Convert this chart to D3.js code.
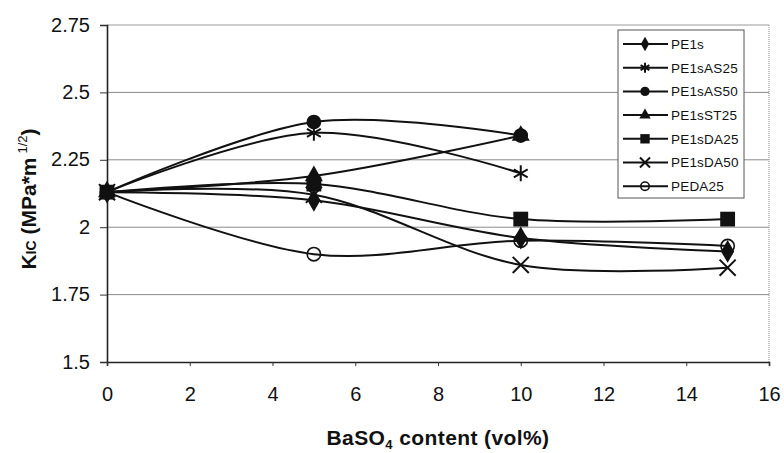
<!DOCTYPE html>
<html>
<head>
  <meta charset="utf-8">
  <title>KIC vs BaSO4 content</title>
  <script src="https://d3js.org/d3.v7.min.js"></script>
  <style type="text/css">
    body { margin: 0; background: #fff; }
    svg { font-family: Arial, "Liberation Sans", sans-serif; }
  </style>
</head>
<body>
  <div id="chart"></div>
<script type="text/javascript">
  // values
  const xTicks = [0, 2, 4, 6, 8, 10, 12, 14, 16];
  const yTicks = [1.5, 1.75, 2, 2.25, 2.5, 2.75];
  const yTickLabels = ['1.5', '1.75', '2', '2.25', '2.5', '2.75'];

  const seriesNames = ['PE1s', 'PE1sAS25', 'PE1sAS50', 'PE1sST25', 'PE1sDA25', 'PE1sDA50', 'PEDA25'];
  const PE1s     = [[0, 2.13], [5, 2.10], [10, 1.96], [15, 1.91]];
  const PE1sAS25 = [[0, 2.13], [5, 2.35], [10, 2.20]];
  const PE1sAS50 = [[0, 2.13], [5, 2.39], [10, 2.34]];
  const PE1sST25 = [[0, 2.13], [5, 2.19], [10, 2.34]];
  const PE1sDA25 = [[0, 2.13], [5, 2.16], [10, 2.03], [15, 2.03]];
  const PE1sDA50 = [[0, 2.13], [5, 2.12], [10, 1.86], [15, 1.85]];
  const PEDA25   = [[0, 2.13], [5, 1.90], [10, 1.95], [15, 1.93]];
  const seriesData = [PE1s, PE1sAS25, PE1sAS50, PE1sST25, PE1sDA25, PE1sDA50, PEDA25];

  const width = 784, height = 453;
  const x = d3.scaleLinear().domain([0, 16]).range([107, 769]);
  const y = d3.scaleLinear().domain([1.5, 2.75]).range([362, 25]);

  const svg = d3.select('#chart').append('svg')
    .attr('width', width)
    .attr('height', height);

  // gridlines + plot frame
  svg.append('g').selectAll('line').data(yTicks.slice(1, -1)).enter()
    .append('line')
      .attr('x1', x(0)).attr('x2', x(16))
      .attr('y1', d => y(d)).attr('y2', d => y(d))
      .attr('stroke', '#8a8a8a').attr('stroke-width', 1);
  svg.append('line')
    .attr('x1', x(0)).attr('x2', x(16)).attr('y1', y(2.75)).attr('y2', y(2.75))
    .attr('stroke', '#9a9a9a').attr('stroke-width', 1);
  svg.append('line')
    .attr('x1', x(16)).attr('x2', x(16)).attr('y1', y(2.75)).attr('y2', y(1.5))
    .attr('stroke', '#9a9a9a').attr('stroke-width', 1.2).attr('stroke-dasharray', '1,1');

  // axes
  const yAxis = d3.axisLeft(y).tickValues(yTicks).tickSize(7).tickPadding(10)
    .tickFormat((d, i) => yTickLabels[i]);
  const gy = svg.append('g').attr('transform', `translate(${x(0)},0)`).call(yAxis);
  const xAxis = d3.axisBottom(x).tickValues(xTicks).tickSize(4).tickPadding(21);
  const gx = svg.append('g').attr('transform', `translate(0,${y(1.5)})`).call(xAxis);
  [gy, gx].forEach(g => {
    g.select('.domain').attr('stroke', '#222').attr('stroke-width', 1.6);
    g.selectAll('.tick line').attr('stroke', '#333');
    g.selectAll('.tick text').attr('fill', '#111').style('font-size', '20px');
  });
  gy.selectAll('.tick text').attr('dy', '0.3em');

  // series
  const line = d3.line()
    .x(d => x(d[0])).y(d => y(d[1]))
    .curve(d3.curveCatmullRom.alpha(0));
  const symbolTypes = [d3.symbolDiamond, d3.symbolAsterisk, d3.symbolCircle, d3.symbolTriangle,
                       d3.symbolSquare, d3.symbolTimes, d3.symbolCircle];
  const symbolSizes = [150, 180, 170, 140, 220, 170, 140];
  const marker = (g, i) => {
    const sym = d3.symbol().type(symbolTypes[i]).size(symbolSizes[i]);
    const stroked = i === 1 || i === 5;
    g.attr('d', sym)
      .attr('fill', stroked || i === 6 ? 'none' : '#111')
      .attr('stroke', '#111')
      .attr('stroke-width', stroked ? 2 : (i === 6 ? 1.6 : 0));
  };

  seriesData.forEach((data, i) => {
    svg.append('path')
      .datum(data)
      .attr('d', line)
      .attr('fill', 'none')
      .attr('stroke', '#111')
      .attr('stroke-width', 2);
  });
  seriesData.forEach((data, i) => {
    svg.append('g').selectAll('path').data(data).enter()
      .append('path')
        .attr('transform', d => `translate(${x(d[0])},${y(d[1])})`)
        .call(marker, i);
  });

  // legend
  const legend = svg.append('g').attr('transform', 'translate(618,30)');
  legend.append('rect')
    .attr('width', 126).attr('height', 168)
    .attr('fill', '#fff').attr('stroke', '#555').attr('stroke-width', 1);
  seriesNames.forEach((name, i) => {
    const row = legend.append('g').attr('transform', `translate(0,${14 + i * 23.7})`);
    row.append('line').attr('x1', 5).attr('x2', 50).attr('y1', 0).attr('y2', 0)
      .attr('stroke', '#111').attr('stroke-width', 2);
    row.append('path').attr('transform', 'translate(27,0)')
      .call(marker, i)
      .attr('d', d3.symbol().type(symbolTypes[i]).size(symbolSizes[i] * 0.4));
    row.append('text').attr('x', 53).attr('y', 0).attr('dy', '0.36em')
      .style('font-size', '13.5px').style('letter-spacing', '0.2px').attr('fill', '#111')
      .text(name);
  });

  // axis titles
  const yTitle = svg.append('text')
    .attr('transform', `translate(36,199) rotate(-90)`)
    .attr('text-anchor', 'middle')
    .style('font-size', '21px').style('font-weight', 'bold').attr('fill', '#111');
  yTitle.append('tspan').text('K');
  yTitle.append('tspan').style('font-size', '14px').text('IC');
  yTitle.append('tspan').text(' (MPa*m');
  yTitle.append('tspan').style('font-size', '13px').style('font-weight', 'normal').attr('dx', '4').attr('dy', '-9').text('1/2');
  yTitle.append('tspan').attr('dy', '9').text(')');

  const xTitle = svg.append('text')
    .attr('x', 438).attr('y', 445)
    .attr('text-anchor', 'middle')
    .style('font-size', '21px').style('font-weight', 'bold').style('letter-spacing', '0.4px')
    .attr('fill', '#111');
  xTitle.append('tspan').text('BaSO');
  xTitle.append('tspan').style('font-size', '13px').attr('dy', '4').text('4');
  xTitle.append('tspan').attr('dy', '-4').text(' content (vol%)');
</script>
</body>
</html>
